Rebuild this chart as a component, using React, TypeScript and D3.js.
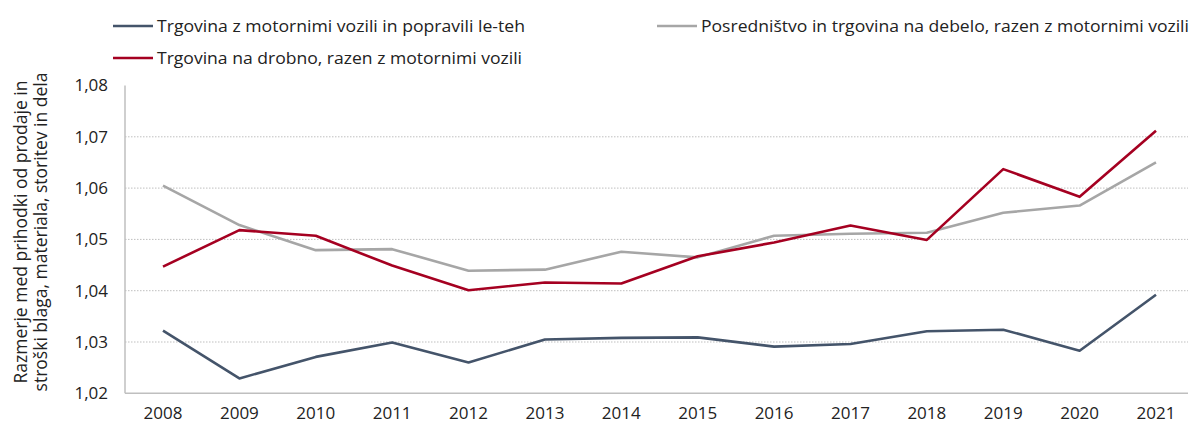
import React from "react";
import * as d3 from "d3";

const years = ["2008","2009","2010","2011","2012","2013","2014","2015","2016","2017","2018","2019","2020","2021"];
const motorVehicles = [1.0322,1.0229,1.0271,1.0299,1.0260,1.0305,1.0308,1.0309,1.0291,1.0296,1.0321,1.0324,1.0283,1.0392];
const wholesale = [1.0605,1.0528,1.0479,1.0481,1.0439,1.0441,1.0476,1.0465,1.0507,1.0511,1.0513,1.0552,1.0566,1.0650];
const retail = [1.0447,1.0518,1.0507,1.0449,1.0401,1.0416,1.0414,1.0467,1.0494,1.0527,1.0499,1.0637,1.0583,1.0712];
const yTicks = [1.02,1.03,1.04,1.05,1.06,1.07,1.08];
const seriesNames = [
  "Trgovina z motornimi vozili in popravili le-teh",
  "Posredništvo in trgovina na debelo, razen z motornimi vozili",
  "Trgovina na drobno, razen z motornimi vozili",
];

const W = 1190, H = 424;
const left = 125, right = 1188, top = 85.5, bottom = 393.3;
const font = "'Open Sans', 'Noto Sans', sans-serif";

export default function App() {
  const x = d3.scalePoint<string>().domain(years).range([163, 1156]);
  const y = d3.scaleLinear().domain([1.02, 1.08]).range([bottom, top]);
  const line = d3.line<number>().x((_, i) => x(years[i])!).y(d => y(d));
  const series = [
    { name: seriesNames[0], data: motorVehicles, color: "#44546a" },
    { name: seriesNames[1], data: wholesale, color: "#a6a6a6" },
    { name: seriesNames[2], data: retail, color: "#a50021" },
  ];
  const legendPos = [
    { x: 113, y: 26, w: 368 },
    { x: 657, y: 26, w: 488 },
    { x: 113, y: 58, w: 365 },
  ];
  return (
    <svg width={W} height={H} style={{ position: "absolute", left: 0, top: 0, background: "#fff" }} fontFamily={font}>
      {yTicks.slice(1, -1).map(t => (
        <line key={t} x1={left} x2={right} y1={y(t)} y2={y(t)} stroke="#bfbfbf" strokeWidth={1} strokeDasharray="1.5,1.5" />
      ))}
      <line x1={left} x2={left} y1={top} y2={bottom} stroke="#bfbfbf" strokeWidth={1.5} />
      <line x1={left} x2={right} y1={bottom} y2={bottom} stroke="#bfbfbf" strokeWidth={1.5} />
      {yTicks.map(t => (
        <text key={t} x={108} y={y(t)} dy="0.35em" textAnchor="end" fontSize={17} fill="#222">
          {d3.format(".2f")(t).replace(".", ",")}
        </text>
      ))}
      {years.map(yr => (
        <text key={yr} x={x(yr)!} y={419} textAnchor="middle" fontSize={17} fill="#222">{yr}</text>
      ))}
      <text transform={`translate(27,232) rotate(-90)`} textAnchor="middle" fontSize={17.5} fill="#222">
        Razmerje med prihodki od prodaje in
      </text>
      <text transform={`translate(47,232) rotate(-90)`} textAnchor="middle" fontSize={17.5} fill="#222">
        stroški blaga, materiala, storitev in dela
      </text>
      {series.map(s => (
        <path key={s.name} d={line(s.data)!} fill="none" stroke={s.color} strokeWidth={2.6} strokeLinejoin="round" />
      ))}
      {series.map((s, i) => (
        <g key={s.name + "l"}>
          <line x1={legendPos[i].x} x2={legendPos[i].x + 40} y1={legendPos[i].y} y2={legendPos[i].y} stroke={s.color} strokeWidth={2.6} />
          <text x={legendPos[i].x + 44} y={legendPos[i].y} dy="0.35em" fontSize={17} fill="#222"
            textLength={legendPos[i].w} lengthAdjust="spacingAndGlyphs">{s.name}</text>
        </g>
      ))}
    </svg>
  );
}
